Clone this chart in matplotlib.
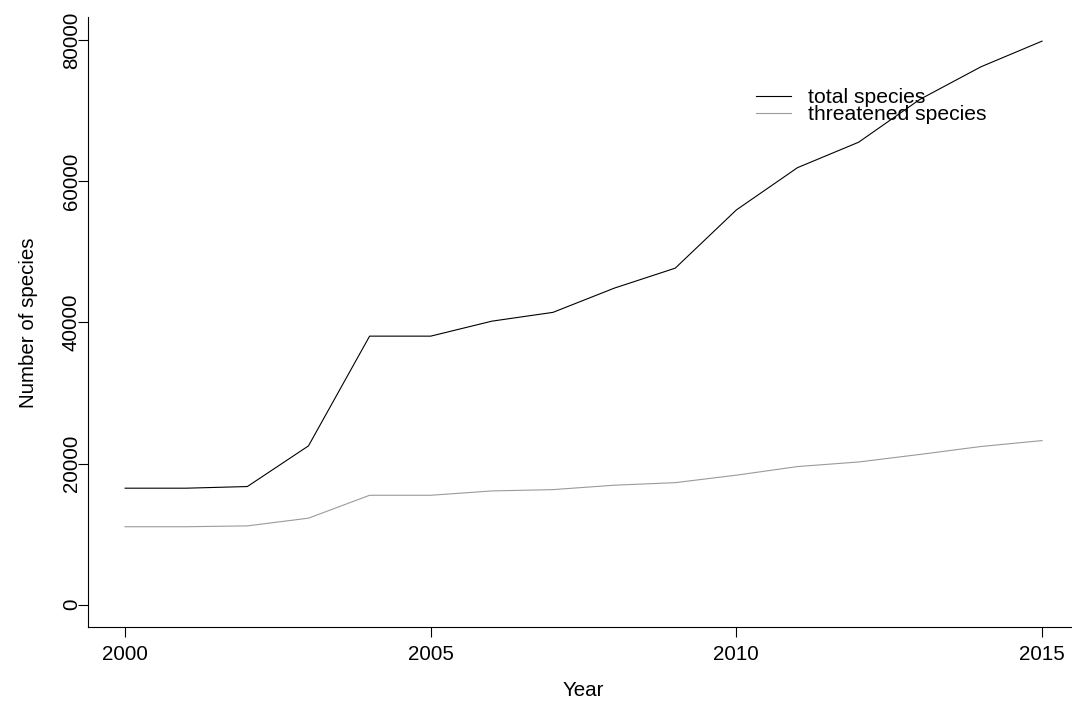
import matplotlib
matplotlib.use("Agg")
import matplotlib.pyplot as plt

# IUCN red list counts
years = [2000, 2001, 2002, 2003, 2004, 2005, 2006, 2007, 2008, 2009, 2010,
         2011, 2012, 2013, 2014, 2015]
total_species = [16507, 16507, 16740, 22500, 38047, 38046, 40168, 41415, 44838,
                 47677, 55926, 61914, 65518, 71576, 76199, 79837]
threatened_species = [11046, 11046, 11167, 12259, 15503, 15503, 16118, 16306, 16928,
                      17291, 18351, 19570, 20219, 21286, 22413, 23250]

x_ticks = [2000, 2005, 2010, 2015]
y_ticks = [0, 20000, 40000, 60000, 80000]

plt.rcParams['font.family'] = ['Liberation Sans', 'DejaVu Sans']
fs = 14.8

fig = plt.figure(figsize=(10.72, 7.05), dpi=100)
W, H = 1072, 705
x0, x1 = 88.4, 1078.7
y0, y1 = 627.3, 17.4
ax = fig.add_axes([x0 / W, 1 - y0 / H, (x1 - x0) / W, (y0 - y1) / H])

ax.plot(years, total_species, color='black', lw=0.8, label='total species')
ax.plot(years, threatened_species, color='#9a9a9a', lw=0.8, label='threatened species')

ax.set_xlim(1999.4, 2015.6)
ax.set_ylim(-3200, 83200)
ax.set_xticks(x_ticks)
ax.set_yticks(y_ticks)
ax.set_yticklabels([str(v) for v in y_ticks], rotation=90, va='center')

for side in ['top', 'right']:
    ax.spines[side].set_visible(False)
for side in ['left', 'bottom']:
    ax.spines[side].set_linewidth(0.8)
ax.tick_params(axis='both', length=7, width=0.8, labelsize=fs, pad=6)
ax.tick_params(axis='y', pad=-1.5)

ax.set_xlabel('Year', fontsize=fs, labelpad=12)
ax.set_ylabel('Number of species', fontsize=fs, labelpad=17)

# legend without box, tight rows like the R one
ax.legend(loc='upper left', bbox_to_anchor=((756 - x0) / (x1 - x0), 1 - (88 - y1) / (y0 - y1)),
          frameon=False, fontsize=15.2, handlelength=1.65, handletextpad=0.8,
          labelspacing=-0.08, borderaxespad=0, borderpad=0)

fig.savefig('out.png', dpi=100)
